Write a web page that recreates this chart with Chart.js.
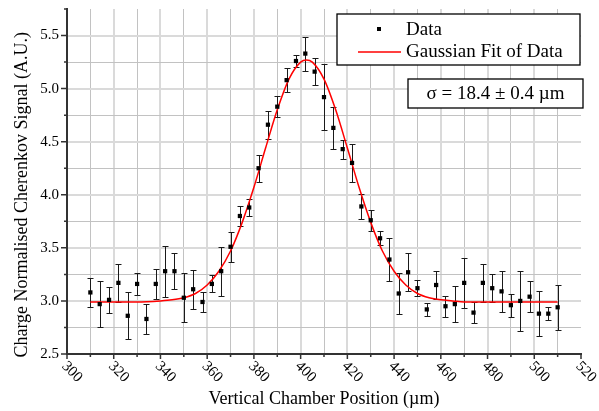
<!DOCTYPE html>
<html>
<head>
<meta charset="utf-8">
<script src="https://cdn.jsdelivr.net/npm/chart.js@4.4.1/dist/chart.umd.min.js"></script>
<style>
  html, body { margin: 0; padding: 0; background: #fff; }
</style>
</head>
<body>
<canvas id="chart" width="599" height="411"></canvas>
<script>
// ----- data -----
const positions = [310, 314, 318, 322, 326, 330, 334, 338, 342, 346, 350, 354, 358, 362, 366, 370, 374, 378, 382, 386,
                   390, 394, 398, 402, 406, 410, 414, 418, 422, 426, 430, 434, 438, 442, 446, 450, 454, 458, 462, 466,
                   470, 474, 478, 482, 486, 490, 494, 498, 502, 506, 510];
const signal = [3.08, 2.97, 3.01, 3.17, 2.86, 3.16, 2.83, 3.16, 3.28, 3.28, 3.03, 3.11, 2.99, 3.16, 3.28, 3.51, 3.80, 3.88, 4.25, 4.66,
                4.83, 5.08, 5.26, 5.33, 5.16, 4.92, 4.63, 4.43, 4.30, 3.89, 3.76, 3.59, 3.39, 3.07, 3.27, 3.12, 2.92, 3.15, 2.95, 2.97,
                3.17, 2.89, 3.17, 3.12, 3.09, 2.96, 3.00, 3.04, 2.88, 2.88, 2.94];
const errors = [0.14, 0.22, 0.12, 0.18, 0.22, 0.10, 0.14, 0.145, 0.24, 0.17, 0.23, 0.185, 0.09, 0.08, 0.23, 0.14, 0.09, 0.08, 0.125, 0.13,
                0.10, 0.11, 0.06, 0.16, 0.125, 0.31, 0.20, 0.09, 0.18, 0.12, 0.10, 0.065, 0.20, 0.19, 0.18, 0.075, 0.06, 0.13, 0.10, 0.17,
                0.235, 0.10, 0.177, 0.13, 0.19, 0.107, 0.28, 0.145, 0.21, 0.06, 0.21];

const fitX = [310, 320, 330, 340, 345, 350, 355, 360, 365, 370, 375, 380, 385, 390, 395, 400, 402.5, 405, 410, 415,
              420, 425, 430, 435, 440, 445, 450, 455, 460, 465, 470, 480, 490, 500, 510];
const fitY = [2.99, 2.99, 2.99, 3.00, 3.01, 3.03, 3.07, 3.15, 3.28, 3.47, 3.74, 4.07, 4.44, 4.80, 5.09, 5.25, 5.27, 5.25, 5.09, 4.80,
              4.44, 4.07, 3.74, 3.47, 3.28, 3.15, 3.07, 3.03, 3.01, 3.00, 2.99, 2.99, 2.99, 2.99, 2.99];

const xTitle = 'Vertical Chamber Position (\u00b5m)';
const yTitle = 'Charge Normalised Cherenkov Signal (A.U.)';
const legendLabels = ['Data', 'Gaussian Fit of Data'];
const sigmaText = '\u03c3 = 18.4 \u00b1 0.4 \u00b5m';

const serif = '"Liberation Serif", "Times New Roman", serif';
const axisColor = '#333';

// error bars under the points, axis decorations + boxes on top
const extrasPlugin = {
    id: 'extras',
    beforeDatasetsDraw(chart) {
        const { ctx, scales: { x, y } } = chart;
        ctx.save();
        ctx.strokeStyle = '#1a1a1a';
        ctx.lineWidth = 1;
        positions.forEach((p, i) => {
            const px = Math.round(x.getPixelForValue(p)) + 0.5;
            const top = Math.round(y.getPixelForValue(signal[i] + errors[i])) + 0.5;
            const bot = Math.round(y.getPixelForValue(signal[i] - errors[i])) + 0.5;
            ctx.beginPath();
            ctx.moveTo(px, top); ctx.lineTo(px, bot);
            ctx.moveTo(px - 3, top); ctx.lineTo(px + 3, top);
            ctx.moveTo(px - 3, bot); ctx.lineTo(px + 3, bot);
            ctx.stroke();
        });
        ctx.restore();
    },
    afterDraw(chart) {
        const { ctx, chartArea, scales: { x, y } } = chart;
        ctx.save();

        // tick marks (outside)
        ctx.strokeStyle = axisColor;
        ctx.lineWidth = 1.5;
        ctx.beginPath();
        x.ticks.forEach(t => {
            const px = x.getPixelForValue(t.value);
            const len = t.value % 20 === 0 ? 5 : 3;
            ctx.moveTo(px, chartArea.bottom); ctx.lineTo(px, chartArea.bottom + len);
        });
        y.ticks.forEach(t => {
            const py = y.getPixelForValue(t.value);
            const len = t.value % 0.5 === 0 ? 6 : 3;
            ctx.moveTo(chartArea.left, py); ctx.lineTo(chartArea.left - len, py);
        });
        ctx.stroke();

        // tick labels
        ctx.fillStyle = '#000';
        ctx.font = '15px ' + serif;
        ctx.textAlign = 'right';
        ctx.textBaseline = 'middle';
        y.ticks.forEach(t => {
            if (t.value % 0.5 !== 0 || t.value > 5.5) return;
            ctx.fillText(t.value.toFixed(1), chartArea.left - 8, y.getPixelForValue(t.value));
        });
        ctx.textAlign = 'left';
        x.ticks.forEach(t => {
            if (t.value % 20 !== 0) return;
            ctx.save();
            ctx.translate(x.getPixelForValue(t.value) - 3, chartArea.bottom + 10);
            ctx.rotate(Math.PI / 4);
            ctx.fillText(String(t.value), 0, 0);
            ctx.restore();
        });

        // axis titles
        ctx.font = '18px ' + serif;
        ctx.textAlign = 'center';
        ctx.fillText(xTitle, (chartArea.left + chartArea.right) / 2, 399);
        ctx.save();
        ctx.translate(22, (y.getPixelForValue(2.5) + y.getPixelForValue(5.5)) / 2);
        ctx.rotate(-Math.PI / 2);
        ctx.fillText(yTitle, 0, 0);
        ctx.restore();

        // legend box
        ctx.fillStyle = '#fff';
        ctx.fillRect(337, 14, 243, 51);
        ctx.strokeStyle = '#000';
        ctx.lineWidth = 1.3;
        ctx.strokeRect(337, 14, 243, 51);
        ctx.fillStyle = '#000';
        ctx.fillRect(377, 27, 4, 4);
        ctx.strokeStyle = '#ff0000';
        ctx.lineWidth = 1.5;
        ctx.beginPath();
        ctx.moveTo(358, 52); ctx.lineTo(401, 52);
        ctx.stroke();
        ctx.font = '19px ' + serif;
        ctx.textAlign = 'left';
        ctx.fillText(legendLabels[0], 406, 30);
        ctx.fillText(legendLabels[1], 406, 52);

        // sigma box
        ctx.fillStyle = '#fff';
        ctx.fillRect(408, 79, 175, 29);
        ctx.strokeStyle = '#000';
        ctx.lineWidth = 1.3;
        ctx.strokeRect(408, 79, 175, 29);
        ctx.fillStyle = '#000';
        ctx.font = '19px ' + serif;
        ctx.textAlign = 'center';
        ctx.fillText(sigmaText, 495.5, 94);

        ctx.restore();
    }
};

const gridColor = (major) => major ? '#dadada' : '#c2c2c2';

new Chart(document.getElementById('chart'), {
    type: 'scatter',
    data: {
        datasets: [{
            label: legendLabels[0],
            data: positions.map((p, i) => ({ x: p, y: signal[i] })),
            pointStyle: 'rect',
            pointRadius: 3,
            backgroundColor: '#000',
            borderColor: '#000',
            borderWidth: 0
        }, {
            label: legendLabels[1],
            type: 'line',
            data: fitX.map((v, i) => ({ x: v, y: fitY[i] })),
            borderColor: '#ff0000',
            borderWidth: 1.5,
            pointRadius: 0,
            cubicInterpolationMode: 'monotone',
            fill: false
        }]
    },
    options: {
        responsive: false,
        animation: false,
        events: [],
        layout: { padding: { top: 9, right: 18, left: 0, bottom: 0 } },
        plugins: { legend: { display: false }, tooltip: { enabled: false } },
        scales: {
            x: {
                type: 'linear',
                min: 300, max: 520,
                ticks: { stepSize: 10, display: false },
                grid: {
                    drawTicks: false,
                    color: c => (c.tick && (c.tick.value === 520 || c.tick.value === 300)) ? 'rgba(0,0,0,0)' : gridColor(c.tick && c.tick.value % 20 === 0),
                    lineWidth: c => (c.tick && c.tick.value % 20 === 0) ? 2 : 1
                },
                border: { color: axisColor, width: 2 },
                afterFit: s => { s.height = 57; }
            },
            y: {
                min: 2.5, max: 5.75,
                ticks: { stepSize: 0.25, display: false },
                grid: {
                    drawTicks: false,
                    color: c => (c.tick && (c.tick.value === 5.75 || c.tick.value === 2.5)) ? 'rgba(0,0,0,0)' : gridColor(c.tick && c.tick.value % 0.5 === 0),
                    lineWidth: c => (c.tick && c.tick.value % 0.5 === 0) ? 2 : 1
                },
                border: { color: axisColor, width: 2 },
                afterFit: s => { s.width = 67; }
            }
        }
    },
    plugins: [extrasPlugin]
});
</script>
</body>
</html>
